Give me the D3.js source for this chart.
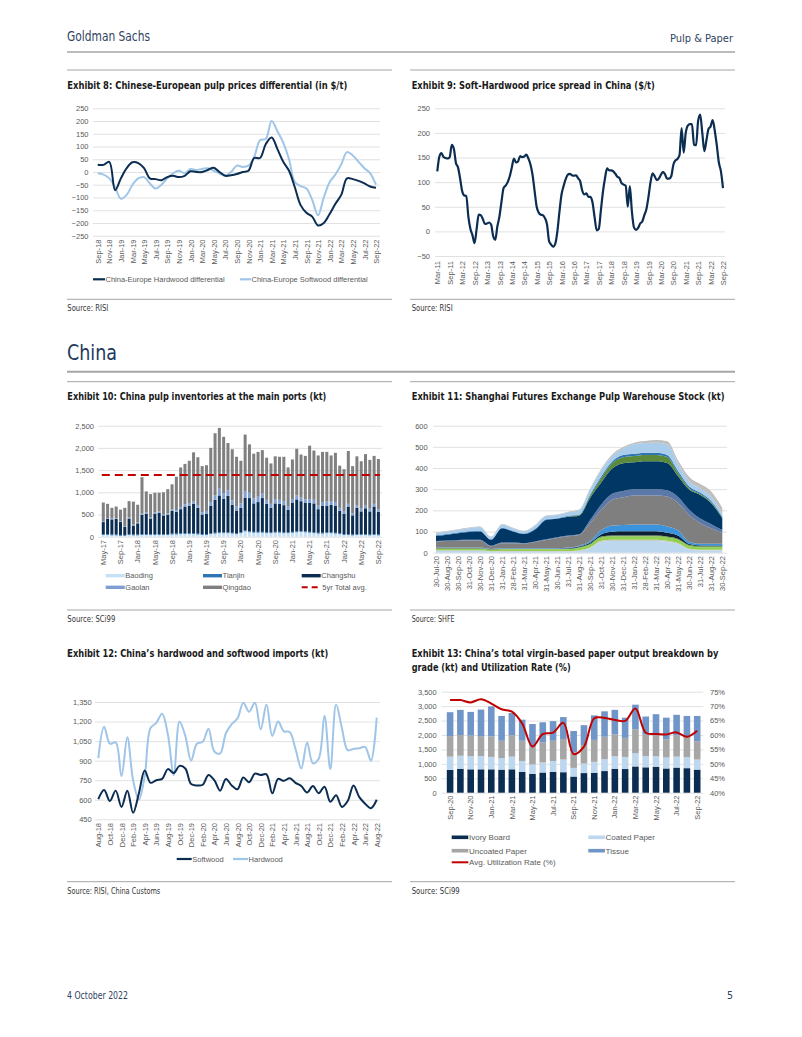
<!DOCTYPE html>
<html>
<head>
<meta charset="utf-8">
<script src="https://cdn.jsdelivr.net/npm/d3@7"></script>
<style>
  body { margin: 0; background: #fff; }
</style>
</head>
<body>
<div id="page"></div>
<script>

// ---------------- data ----------------

// Exhibit 8: monthly Sep-18 .. Sep-22
var ex8Ticks = ["Sep-18","Nov-18","Jan-19","Mar-19","May-19","Jul-19","Sep-19","Nov-19","Jan-20","Mar-20","May-20","Jul-20","Sep-20","Nov-20","Jan-21","Mar-21","May-21","Jul-21","Sep-21","Nov-21","Jan-22","Mar-22","May-22","Jul-22","Sep-22"];
var hardwoodDiff = [28,28,40,-72,-25,15,38,35,15,-25,-28,-32,-20,-15,-20,-15,3,0,0,8,17,0,-15,-13,-8,0,5,55,55,110,135,90,40,5,-60,-130,-160,-175,-210,-200,-165,-125,-90,-25,-28,-35,-45,-57,-62];
var softwoodDiff = [-5,-10,-25,-60,-105,-90,-50,-25,-20,-45,-65,-50,-25,-5,5,-5,12,8,12,15,5,-5,-15,0,25,20,25,60,125,130,200,160,115,50,-40,-55,-65,-110,-170,-100,-40,-10,30,78,65,40,15,-5,-50];

// Exhibit 9: monthly Mar-11 .. Sep-22
var ex9Ticks = ["Mar-11","Sep-11","Mar-12","Sep-12","Mar-13","Sep-13","Mar-14","Sep-14","Mar-15","Sep-15","Mar-16","Sep-16","Mar-17","Sep-17","Mar-18","Sep-18","Mar-19","Sep-19","Mar-20","Sep-20","Mar-21","Sep-21","Mar-22","Sep-22"];
var spread = [122,152,159,151,149,148,151,176,168,139,
  130,108,82,73,72,30,5,-8,-24,5,
  34,33,25,15,16,18,14,-10,-17,10,
  30,60,88,93,100,112,130,148,140,142,
  153,151,152,156,148,136,115,82,50,38,
  34,33,27,14,-20,-27,-31,-25,0,40,
  75,92,106,115,117,114,113,114,108,102,
  83,75,77,70,70,58,28,2,5,42,
  80,108,128,124,124,122,117,111,108,98,
  95,93,50,92,40,8,3,7,16,20,
  33,45,70,100,118,112,104,107,115,121,
  116,107,107,112,135,144,147,155,210,160,
  200,215,218,218,176,175,225,237,200,163,
  185,208,213,226,205,175,140,122,88];

// Exhibit 10: monthly May-17 .. Sep-22 (kt)
var ex10Ticks = ["May-17","Sep-17","Jan-18","May-18","Sep-18","Jan-19","May-19","Sep-19","Jan-20","May-20","Sep-20","Jan-21","May-21","Sep-21","Jan-22","May-22","Sep-22"];
var baoding = [40,40,30,30,20,20,40,30,
  30,40,40,40,40,40,40,40,50,50,60,60,
  60,60,50,40,40,60,70,80,80,80,70,60,
  80,120,100,90,90,90,80,80,90,90,80,80,
  90,100,110,100,90,80,70,70,80,80,70,60,
  40,40,30,40,40,40,30,40,30];
var tianjin = [20,20,20,20,20,20,20,20,
  20,20,20,20,20,20,20,20,20,20,20,20,
  20,20,20,20,20,20,20,20,20,20,20,20,
  20,20,20,20,20,20,20,20,20,20,20,20,
  20,20,20,20,20,20,20,20,20,20,20,20,
  20,20,20,20,20,20,20,20,20];
var changshu = [270,340,340,350,290,180,350,200,
  250,430,460,350,460,480,420,430,510,490,540,600,
  620,660,580,440,460,620,740,830,750,820,630,510,
  550,740,750,640,670,760,640,550,640,630,610,510,
  660,720,670,640,650,650,530,610,600,620,610,500,
  460,620,430,590,510,580,520,620,510];
var gaolan = [20,20,20,20,20,20,20,20,
  20,30,30,30,30,30,30,30,40,40,50,50,
  60,60,60,50,60,80,100,150,130,120,100,90,
  100,150,120,110,120,100,90,90,100,90,90,80,
  80,90,80,80,90,80,80,80,90,80,80,70,
  60,60,50,60,60,60,60,60,60];
var qingdao = [420,320,240,260,260,410,370,520,
  400,820,470,520,440,420,490,550,560,750,890,910,
  950,1100,1080,1040,1030,1220,1400,1370,1270,1070,1150,1120,
  960,1270,1090,1010,1010,980,950,910,960,970,1000,870,
  890,1050,970,980,1200,1110,1130,1130,1120,1030,1110,950,
  940,1190,1060,1100,1070,1160,1100,1080,1130];
var fiveYrAvg = 1390;

// Exhibit 11: month-end SHFE warehouse stock by warehouse (kt), 30-Jul-20 .. 30-Sep-22
var ex11Ticks = ["30-Jul-20","30-Aug-20","30-Sep-20","31-Oct-20","30-Nov-20","31-Dec-20","31-Jan-21","28-Feb-21","31-Mar-21","30-Apr-21","31-May-21","30-Jun-21","31-Jul-21","31-Aug-21","30-Sep-21","31-Oct-21","30-Nov-21","31-Dec-21","31-Jan-22","28-Feb-22","31-Mar-22","30-Apr-22","31-May-22","30-Jun-22","31-Jul-22","31-Aug-22","30-Sep-22"];
var wh1 = [8,8,8,8,8,5,5,5,5,5,5,5,5,8,20,50,55,55,55,55,55,50,40,15,10,10,10];
var wh2 = [3,3,3,3,3,2,3,3,3,3,3,3,3,4,5,6,6,6,6,6,6,6,5,4,4,4,4];
var wh3 = [8,8,8,8,8,6,8,8,8,8,8,8,8,10,12,15,15,15,15,15,15,15,15,12,12,12,12];
var wh4 = [2,2,2,2,2,2,2,2,2,2,2,2,3,4,5,5,5,5,5,5,5,5,5,5,5,5,5];
var wh5 = [1,1,1,1,1,1,1,1,1,1,1,1,2,3,5,10,18,20,20,20,20,18,15,5,3,3,3];
var wh6 = [2,2,2,2,2,2,2,2,2,2,2,2,3,4,8,20,30,30,32,32,32,30,25,10,8,8,8];
var wh7 = [28,31,33,34,34,12,24,24,21,29,39,49,54,51,85,96,121,131,137,137,137,141,129,127,97,73,50];
var wh8 = [3,3,3,3,3,3,3,3,3,3,3,3,3,3,15,25,28,30,30,30,30,30,28,25,22,20,15];
var wh9 = [24,27,32,37,39,27,67,52,43,57,92,87,89,88,105,105,120,131,127,132,132,129,98,94,112,99,56];
var wh10 = [0,0,0,0,0,0,0,0,0,0,0,0,1,3,10,20,25,28,30,30,30,28,15,8,5,4,3];
var wh11 = [3,3,3,3,3,3,3,3,3,3,3,3,3,3,5,8,8,10,10,10,10,10,10,8,6,6,5];
var wh12 = [10,12,13,15,18,10,15,12,10,15,15,15,17,20,25,30,25,30,45,46,48,50,35,25,20,20,15];
var wh13 = [3,3,3,3,3,3,3,3,3,3,3,3,3,3,5,6,8,8,8,10,12,15,15,20,20,25,25];

// Exhibit 12: monthly Aug-18 .. Aug-22 (kt)
var ex12Ticks = ["Aug-18","Oct-18","Dec-18","Feb-19","Apr-19","Jun-19","Aug-19","Oct-19","Dec-19","Feb-20","Apr-20","Jun-20","Aug-20","Oct-20","Dec-20","Feb-21","Apr-21","Jun-21","Aug-21","Oct-21","Dec-21","Feb-22","Apr-22","Jun-22","Aug-22"];
var softwoodImp = [605,675,590,670,545,670,500,650,825,730,750,760,835,805,860,840,720,710,715,790,750,670,760,710,680,770,735,800,790,795,650,760,745,765,730,705,655,705,650,700,585,635,545,590,710,620,570,535,600];
var hardwoodImp = [920,1160,1030,1040,780,1080,750,600,780,1150,1190,1260,1100,790,1200,1090,900,1030,1045,1145,970,955,1110,1180,1225,1345,1275,1345,1140,1330,1090,1200,1125,1120,990,840,1040,880,915,1245,835,1330,1150,980,990,995,1005,900,1230];

// Exhibit 13: monthly Sep-20 .. Sep-22 (kt, %)
var ex13Ticks = ["Sep-20","Nov-20","Jan-21","Mar-21","May-21","Jul-21","Sep-21","Nov-21","Jan-22","Mar-22","May-22","Jul-22","Sep-22"];
var ivory = [790,830,810,810,810,800,810,720,650,700,720,710,560,680,690,750,830,820,910,880,900,840,870,850,800];
var coated = [460,450,450,460,430,400,440,380,330,350,380,440,300,330,380,410,430,420,460,390,360,380,380,380,350];
var uncoated = [710,720,720,690,710,600,740,700,620,700,700,710,540,640,760,780,760,660,830,740,740,630,740,720,630];
var tissue = [830,870,820,920,1040,860,770,730,780,690,680,760,740,690,850,880,850,700,850,630,720,750,710,710,880];
var utilRate = [72.1,72.1,71.3,72.4,70.9,68.9,68.1,64.0,56.0,60.3,60.8,64.2,53.4,56.0,65.8,65.9,65.2,64.9,69.2,60.8,60.3,60.2,60.9,59.4,61.5];

// ---------------- page ----------------

var NARROW = '"Liberation Sans Narrow", "DejaVu Sans Condensed", "Roboto Condensed", sans-serif';
var SANS = '"Liberation Sans", Arial, Helvetica, sans-serif';
var GRID = "#d9d9d9", TICK = "#595959", RULE = "#a6a6a6";
var NAVY = "#0c2d52", LIGHT = "#9fc5e8";

var svg = d3.select("#page").append("svg")
	.attr("width", 802)
	.attr("height", 1037)
	.style("background", "#fff");

function label(x, y, str, o) {
	o = o || {};
	var t = svg.append("text")
		.attr("x", x).attr("y", y)
		.attr("font-family", o.family || NARROW)
		.attr("font-size", o.size || 11)
		.attr("font-weight", o.weight || "normal")
		.attr("fill", o.fill || "#222")
		.attr("text-anchor", o.anchor || "start")
		.text(str);
	if (o.width) {
		var n = t.node().getComputedTextLength();
		if (Math.abs(n - o.width) > 1) t.attr("textLength", o.width).attr("lengthAdjust", "spacingAndGlyphs");
	}
	return t;
}

function hline(x1, x2, y, c, w) {
	svg.append("line")
		.attr("x1", x1).attr("x2", x2).attr("y1", y).attr("y2", y)
		.attr("stroke", c).attr("stroke-width", w);
}

function grid(scale, ticks, x0, x1) {
	var g = svg.append("g").attr("transform", "translate(" + x0 + ",0)")
		.call(d3.axisLeft(scale).tickValues(ticks).tickSize(-(x1 - x0)).tickFormat(""));
	g.select(".domain").remove();
	g.selectAll(".tick line").attr("stroke", GRID).attr("stroke-width", 0.8);
}

function yTicks(scale, ticks, x, fmt, right) {
	var ax = right ? d3.axisRight(scale) : d3.axisLeft(scale);
	var g = svg.append("g").attr("transform", "translate(" + x + ",0)")
		.call(ax.tickValues(ticks).tickSize(0).tickPadding(0).tickFormat(fmt));
	g.select(".domain").remove();
	g.selectAll("text").attr("font-family", SANS).attr("font-size", 7.5).attr("fill", TICK);
}

function xTicks(scale, idx, labels, y) {
	var g = svg.append("g").attr("transform", "translate(0," + y + ")")
		.call(d3.axisBottom(scale).tickValues(idx).tickSize(0).tickPadding(0)
			.tickFormat(function (d, i) { return labels[i]; }));
	g.select(".domain").remove();
	g.selectAll("text")
		.attr("font-family", SANS).attr("font-size", 7.5).attr("fill", TICK)
		.attr("x", 0).attr("y", 0).attr("dy", "0.35em")
		.attr("transform", "rotate(-90)")
		.attr("text-anchor", "end");
}

function every(n, count) {
	return d3.range(count).map(function (i) { return i * n; });
}

// header / footer
label(67, 41, "Goldman Sachs", { size: 14, fill: "#2f4462", width: 83 });
label(733, 41.5, "Pulp & Paper", { size: 11, fill: "#2f4462", anchor: "end" });
hline(67, 735, 52, RULE, 1.5);
label(67, 999, "4 October 2022", { size: 10.5, fill: "#2f4462", width: 61 });
label(733, 999, "5", { size: 10.5, fill: "#2f4462", anchor: "end" });

label(67, 360, "China", { size: 22, fill: "#22395c", width: 50 });
hline(67, 735, 371.7, RULE, 2);

// panel rules
hline(67, 392, 70, RULE, 1);
hline(410, 735, 70, RULE, 1);
hline(67, 392, 381.7, RULE, 1);
hline(410, 735, 381.7, RULE, 1);
hline(67, 392, 299.3, RULE, 1);
hline(410, 735, 299.3, RULE, 1);
hline(67, 392, 610, RULE, 1);
hline(410, 735, 610, RULE, 1);
hline(67, 392, 881.7, RULE, 1);
hline(410, 735, 881.7, RULE, 1);
svg.append("line").attr("x1", 68).attr("x2", 68).attr("y1", 650).attr("y2", 657)
	.attr("stroke", "#8a9bb3").attr("stroke-width", 0.8);

// titles
var TB = { weight: "bold", size: 11, fill: "#1a1a1a" };
label(67.3, 89, "Exhibit 8: Chinese-European pulp prices differential (in $/t)", Object.assign({ width: 280 }, TB));
label(411.7, 89, "Exhibit 9: Soft-Hardwood price spread in China ($/t)", Object.assign({ width: 243 }, TB));
label(67.3, 399.7, "Exhibit 10: China pulp inventories at the main ports (kt)", Object.assign({ width: 259 }, TB));
label(411.7, 399.7, "Exhibit 11: Shanghai Futures Exchange Pulp Warehouse Stock (kt)", Object.assign({ width: 313 }, TB));
label(67.3, 657.3, "Exhibit 12: China\u2019s hardwood and softwood imports (kt)", Object.assign({ width: 261 }, TB));
label(411.7, 657.3, "Exhibit 13: China\u2019s total virgin-based paper output breakdown by", Object.assign({ width: 306.6 }, TB));
label(411.7, 670.7, "grade (kt) and Utilization Rate (%)", Object.assign({ width: 159 }, TB));

// sources
var SRC = { size: 9, fill: "#333" };
label(67.3, 310.5, "Source: RISI", Object.assign({ width: 41 }, SRC));
label(411.7, 310.5, "Source: RISI", Object.assign({ width: 41 }, SRC));
label(67.3, 621.5, "Source: SCi99", Object.assign({ width: 48 }, SRC));
label(411.7, 621.5, "Source: SHFE", Object.assign({ width: 43 }, SRC));
label(67.3, 894, "Source: RISI, China Customs", Object.assign({ width: 93 }, SRC));
label(411.7, 894, "Source: SCi99", Object.assign({ width: 48 }, SRC));

var fmtK = d3.format(",");

// ---------------- Exhibit 8 ----------------
(function () {
	var x = d3.scaleLinear().domain([0, hardwoodDiff.length - 1]).range([97.7, 376]);
	var y = d3.scaleLinear().domain([-250, 250]).range([235.7, 108.3]);
	var ticks = d3.range(-250, 251, 50);
	grid(y, ticks, 93, 380);
	yTicks(y, ticks, 88.5, d3.format("d"));
	xTicks(x, every(2, ex8Ticks.length), ex8Ticks, 239.5);

	var line = d3.line().x(function (d, i) { return x(i); }).y(function (d) { return y(d); })
		.curve(d3.curveCatmullRom);
	svg.append("path").attr("d", line(softwoodDiff))
		.attr("fill", "none").attr("stroke", LIGHT).attr("stroke-width", 2);
	svg.append("path").attr("d", line(hardwoodDiff))
		.attr("fill", "none").attr("stroke", NAVY).attr("stroke-width", 2);

	hline(93, 105, 279.3, NAVY, 2.2);
	label(105.5, 282, "China-Europe Hardwood differential", { family: SANS, size: 7.5, fill: TICK });
	hline(240, 251, 279.3, LIGHT, 2.2);
	label(251.5, 282, "China-Europe Softwood differential", { family: SANS, size: 7.5, fill: TICK });
})();

// ---------------- Exhibit 9 ----------------
(function () {
	var x = d3.scaleLinear().domain([0, spread.length - 1]).range([437.3, 723]);
	var y = d3.scaleLinear().domain([-50, 250]).range([256, 108.3]);
	var ticks = d3.range(-50, 251, 50);
	grid(y, ticks, 435, 725);
	yTicks(y, ticks, 430, d3.format("d"));
	xTicks(x, every(6, ex9Ticks.length), ex9Ticks, 261);

	var line = d3.line().x(function (d, i) { return x(i); }).y(function (d) { return y(d); })
		.curve(d3.curveMonotoneX);
	svg.append("path").attr("d", line(spread))
		.attr("fill", "none").attr("stroke", NAVY).attr("stroke-width", 2.2);
})();

// ---------------- Exhibit 10 ----------------
(function () {
	var ports = [
		{ key: "Baoding", color: "#c6e0f5", values: baoding },
		{ key: "Tianjin", color: "#2e75b6", values: tianjin },
		{ key: "Changshu", color: "#0c2d52", values: changshu },
		{ key: "Gaolan", color: "#7f9fd3", values: gaolan },
		{ key: "Qingdao", color: "#808080", values: qingdao }
	];
	var rows = baoding.map(function (d, i) {
		var r = {};
		ports.forEach(function (p) { r[p.key] = p.values[i]; });
		return r;
	});
	var stacked = d3.stack().keys(ports.map(function (p) { return p.key; }))(rows);

	var x = d3.scaleBand().domain(d3.range(rows.length)).range([100.5, 381.2]).padding(0.3);
	var y = d3.scaleLinear().domain([0, 2500]).range([536.7, 425.7]);
	var ticks = d3.range(0, 2501, 500);
	grid(y, ticks, 98, 382);
	yTicks(y, ticks, 94, fmtK);

	svg.append("g").selectAll("g").data(stacked).join("g")
		.attr("fill", function (d, i) { return ports[i].color; })
		.selectAll("rect").data(function (d) { return d; }).join("rect")
		.attr("x", function (d, i) { return x(i); })
		.attr("width", x.bandwidth())
		.attr("y", function (d) { return y(d[1]); })
		.attr("height", function (d) { return y(d[0]) - y(d[1]); });

	svg.append("line")
		.attr("x1", x(0)).attr("x2", x(rows.length - 1) + x.bandwidth())
		.attr("y1", y(fiveYrAvg)).attr("y2", y(fiveYrAvg))
		.attr("stroke", "#c00000").attr("stroke-width", 2).attr("stroke-dasharray", "8,5");

	xTicks(x, every(4, ex10Ticks.length), ex10Ticks, 540);

	var legend = [
		{ name: "Baoding", color: ports[0].color, col: 0, row: 0 },
		{ name: "Tianjin", color: ports[1].color, col: 1, row: 0 },
		{ name: "Changshu", color: ports[2].color, col: 2, row: 0 },
		{ name: "Gaolan", color: ports[3].color, col: 0, row: 1 },
		{ name: "Qingdao", color: ports[4].color, col: 1, row: 1 }
	];
	var cols = [105.7, 203, 301.7], rowsY = [575.7, 587.3];
	legend.forEach(function (l) {
		svg.append("rect").attr("x", cols[l.col]).attr("y", rowsY[l.row] - 1.7)
			.attr("width", 19).attr("height", 3.4).attr("fill", l.color);
		label(cols[l.col] + 19.6, rowsY[l.row] + 2.7, l.name, { family: SANS, size: 7.5, fill: TICK });
	});
	svg.append("line").attr("x1", cols[2]).attr("x2", cols[2] + 19)
		.attr("y1", rowsY[1]).attr("y2", rowsY[1])
		.attr("stroke", "#c00000").attr("stroke-width", 2).attr("stroke-dasharray", "6,4");
	label(cols[2] + 20.6, rowsY[1] + 2.7, "5yr Total avg.", { family: SANS, size: 7.5, fill: TICK });
})();

// ---------------- Exhibit 11 ----------------
(function () {
	var layers = [
		{ key: "w1", color: "#bdd7ee", values: wh1 },
		{ key: "w2", color: "#c9c9c9", values: wh2 },
		{ key: "w3", color: "#92d050", values: wh3 },
		{ key: "w4", color: "#70ad47", values: wh4 },
		{ key: "w5", color: "#0d1f35", values: wh5 },
		{ key: "w6", color: "#3a93db", values: wh6 },
		{ key: "w7", color: "#7f7f7f", values: wh7 },
		{ key: "w8", color: "#5b78a8", values: wh8 },
		{ key: "w9", color: "#003764", values: wh9 },
		{ key: "w10", color: "#5a8a3a", values: wh10 },
		{ key: "w11", color: "#2f75b5", values: wh11 },
		{ key: "w12", color: "#a9cdea", values: wh12 },
		{ key: "w13", color: "#bfbfbf", values: wh13 }
	];
	var rows = wh1.map(function (d, i) {
		var r = {};
		layers.forEach(function (l) { r[l.key] = l.values[i]; });
		return r;
	});
	var stacked = d3.stack().keys(layers.map(function (l) { return l.key; }))(rows);

	var x = d3.scaleLinear().domain([0, rows.length - 1]).range([436, 722.3]);
	var y = d3.scaleLinear().domain([0, 600]).range([552.7, 425.7]);
	var ticks = d3.range(0, 601, 100);
	grid(y, ticks, 433, 727);
	yTicks(y, ticks, 427.7, d3.format("d"));

	var area = d3.area()
		.x(function (d, i) { return x(i); })
		.y0(function (d) { return y(d[0]); })
		.y1(function (d) { return y(d[1]); })
		.curve(d3.curveMonotoneX);
	svg.append("g").selectAll("path").data(stacked).join("path")
		.attr("d", area)
		.attr("fill", function (d, i) { return layers[i].color; });

	xTicks(x, d3.range(ex11Ticks.length), ex11Ticks, 556);
})();

// ---------------- Exhibit 12 ----------------
(function () {
	var x = d3.scaleLinear().domain([0, softwoodImp.length - 1]).range([98.3, 376.7]);
	var y = d3.scaleLinear().domain([450, 1350]).range([819.3, 702]);
	var ticks = d3.range(450, 1351, 150);
	grid(y, ticks, 95, 380);
	yTicks(y, ticks, 91.7, fmtK);
	xTicks(x, every(2, ex12Ticks.length), ex12Ticks, 823);

	var line = d3.line().x(function (d, i) { return x(i); }).y(function (d) { return y(d); })
		.curve(d3.curveCatmullRom);
	svg.append("path").attr("d", line(hardwoodImp))
		.attr("fill", "none").attr("stroke", LIGHT).attr("stroke-width", 2);
	svg.append("path").attr("d", line(softwoodImp))
		.attr("fill", "none").attr("stroke", NAVY).attr("stroke-width", 2);

	hline(176.7, 191.7, 859, NAVY, 2.2);
	label(192.3, 861.7, "Softwood", { family: SANS, size: 7.5, fill: TICK });
	hline(233, 248, 859, LIGHT, 2.2);
	label(248.6, 861.7, "Hardwood", { family: SANS, size: 7.5, fill: TICK });
})();

// ---------------- Exhibit 13 ----------------
(function () {
	var grades = [
		{ key: "Ivory Board", color: "#0c2d52", values: ivory },
		{ key: "Coated Paper", color: "#bdd7ee", values: coated },
		{ key: "Uncoated Paper", color: "#a6a6a6", values: uncoated },
		{ key: "Tissue", color: "#6f95c9", values: tissue }
	];
	var rows = ivory.map(function (d, i) {
		var r = {};
		grades.forEach(function (g) { r[g.key] = g.values[i]; });
		return r;
	});
	var stacked = d3.stack().keys(grades.map(function (g) { return g.key; }))(rows);

	var x = d3.scaleBand().domain(d3.range(rows.length)).range([443.1, 704.2]).padding(0.36);
	var y = d3.scaleLinear().domain([0, 3500]).range([792.7, 691.7]);
	var yR = d3.scaleLinear().domain([0.40, 0.75]).range([792.7, 691.7]);
	var ticks = d3.range(0, 3501, 500);
	grid(y, ticks, 441.7, 703.3);
	yTicks(y, ticks, 436.7, fmtK);
	yTicks(yR, d3.range(8).map(function (i) { return 0.40 + i * 0.05; }), 710, d3.format(".0%"), true);

	svg.append("g").selectAll("g").data(stacked).join("g")
		.attr("fill", function (d, i) { return grades[i].color; })
		.selectAll("rect").data(function (d) { return d; }).join("rect")
		.attr("x", function (d, i) { return x(i); })
		.attr("width", x.bandwidth())
		.attr("y", function (d) { return y(d[1]); })
		.attr("height", function (d) { return y(d[0]) - y(d[1]); });

	var line = d3.line()
		.x(function (d, i) { return x(i) + x.bandwidth() / 2; })
		.y(function (d) { return yR(d / 100); })
		.curve(d3.curveCatmullRom);
	svg.append("path").attr("d", line(utilRate))
		.attr("fill", "none").attr("stroke", "#c00000").attr("stroke-width", 2);

	xTicks(x, every(2, ex13Ticks.length), ex13Ticks, 795.5);

	var cols = [451.7, 588.3], rowsY = [837.3, 850.7];
	grades.forEach(function (g, i) {
		var cx = cols[i % 2], cy = rowsY[Math.floor(i / 2)];
		svg.append("rect").attr("x", cx).attr("y", cy - 1.8)
			.attr("width", 16.6).attr("height", 3.6).attr("fill", g.color);
		label(cx + 17.3, cy + 2.8, g.key, { family: SANS, size: 8, fill: TICK });
	});
	hline(451.7, 468.3, 862.3, "#c00000", 2);
	label(469, 865.1, "Avg. Utilization Rate (%)", { family: SANS, size: 8, fill: TICK });
})();

</script>
</body>
</html>
